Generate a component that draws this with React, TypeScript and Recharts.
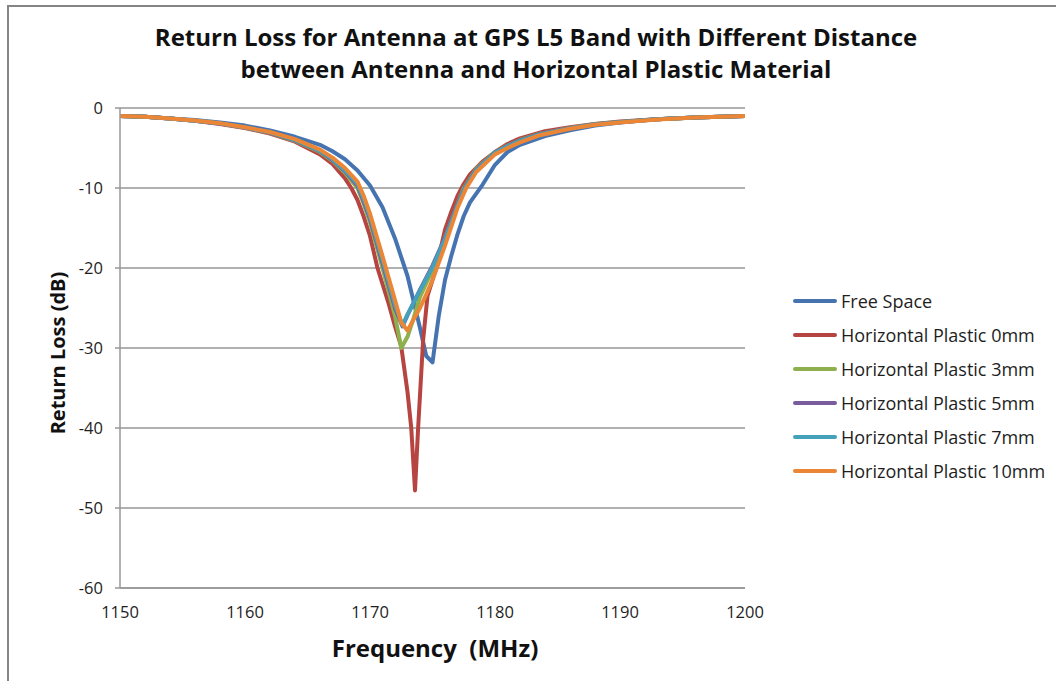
import { LineChart, Line, XAxis, YAxis, CartesianGrid } from "recharts";

const FONT = '"Open Sans", sans-serif';
const GRID = "#979797";

const freqTicks = [1150, 1160, 1170, 1180, 1190, 1200];
const dbTicks = [0, -10, -20, -30, -40, -50, -60];

// Free Space
const freeSpaceFreq = [1150, 1152, 1154, 1156, 1158, 1160, 1162, 1164, 1166, 1167, 1168, 1169, 1170, 1171, 1172, 1173, 1174, 1174.5, 1175, 1175.5, 1176, 1176.5, 1177, 1177.5, 1178, 1179, 1180, 1181, 1182, 1184, 1186, 1188, 1190, 1192, 1194, 1196, 1198, 1200];
const freeSpaceDb = [-1.0, -1.1, -1.3, -1.5, -1.8, -2.2, -2.8, -3.6, -4.6, -5.4, -6.4, -7.8, -9.7, -12.4, -16.3, -21.0, -27.5, -31.0, -31.8, -26.0, -21.5, -18.5, -15.8, -13.5, -11.8, -9.6, -7.1, -5.5, -4.6, -3.5, -2.8, -2.2, -1.8, -1.5, -1.3, -1.2, -1.1, -1.0];

// Horizontal Plastic 0mm
const plastic0Freq = [1150, 1152, 1154, 1156, 1158, 1160, 1162, 1164, 1166, 1167, 1168, 1168.5, 1169, 1169.5, 1170, 1170.6, 1171, 1171.5, 1172, 1172.5, 1173, 1173.3, 1173.6, 1173.85, 1174.25, 1174.6, 1175.3, 1176, 1176.5, 1177, 1177.5, 1178, 1179, 1180, 1181, 1182, 1184, 1186, 1188, 1190, 1193, 1196, 1200];
const plastic0Db = [-1.0, -1.1, -1.3, -1.6, -2.0, -2.5, -3.2, -4.2, -5.8, -7.0, -8.8, -10.0, -11.5, -13.6, -16.0, -20.0, -22.0, -24.5, -27.3, -29.8, -35.5, -40.0, -47.8, -40.0, -29.0, -23.5, -20.0, -15.2, -13.0, -11.0, -9.5, -8.3, -6.7, -5.5, -4.5, -3.8, -2.9, -2.4, -2.0, -1.7, -1.4, -1.2, -1.0];

// Horizontal Plastic 3mm
const plastic3Freq = [1150, 1152, 1154, 1156, 1158, 1160, 1162, 1164, 1166, 1167, 1168, 1169, 1169.5, 1170, 1171, 1172, 1172.5, 1173, 1173.5, 1174, 1175, 1176, 1177, 1177.5, 1178.5, 1180, 1181, 1182, 1183.6, 1186, 1188, 1190, 1193, 1196, 1200];
const plastic3Db = [-1.0, -1.1, -1.3, -1.6, -1.95, -2.45, -3.1, -4.1, -5.5, -6.6, -8.1, -10.0, -12.0, -14.3, -20.0, -26.0, -30.0, -28.6, -26.2, -23.6, -20.2, -16.2, -12.0, -10.0, -7.6, -5.5, -4.7, -4.0, -3.2, -2.5, -2.0, -1.75, -1.4, -1.2, -1.0];

// Horizontal Plastic 5mm
const plastic5Freq = [1150, 1152, 1154, 1156, 1158, 1160, 1162, 1164, 1166, 1167, 1168, 1169, 1169.5, 1170, 1171, 1172, 1172.6, 1173, 1174, 1175, 1176, 1177, 1177.6, 1178.5, 1180, 1181, 1182, 1183.6, 1186, 1188, 1190, 1193, 1196, 1200];
const plastic5Db = [-1.0, -1.1, -1.3, -1.58, -1.93, -2.43, -3.07, -4.05, -5.4, -6.5, -7.9, -9.7, -11.7, -13.9, -19.4, -25.0, -27.3, -25.9, -22.7, -19.7, -16.2, -12.0, -9.9, -7.7, -5.55, -4.75, -4.05, -3.25, -2.52, -2.03, -1.77, -1.41, -1.2, -1.0];

// Horizontal Plastic 7mm
const plastic7Freq = [1150, 1152, 1154, 1156, 1158, 1160, 1162, 1164, 1166, 1167, 1168, 1169, 1169.5, 1170, 1171, 1172, 1172.6, 1173, 1174, 1175, 1176, 1177, 1177.6, 1178.5, 1180, 1181, 1182, 1183.6, 1186, 1188, 1190, 1193, 1196, 1200];
const plastic7Db = [-1.0, -1.1, -1.3, -1.58, -1.92, -2.42, -3.05, -4.0, -5.35, -6.4, -7.8, -9.5, -11.4, -13.6, -19.0, -24.6, -27.2, -25.8, -22.8, -19.9, -16.4, -12.2, -10.0, -7.8, -5.6, -4.8, -4.1, -3.3, -2.55, -2.05, -1.78, -1.42, -1.2, -1.0];

// Horizontal Plastic 10mm
const plastic10Freq = [1150, 1152, 1154, 1156, 1158, 1160, 1162, 1164, 1166, 1167, 1168, 1169, 1169.5, 1170, 1171, 1172, 1172.5, 1173, 1174, 1174.5, 1175, 1176, 1177, 1177.7, 1178.5, 1180, 1181, 1182, 1183.6, 1186, 1188, 1190, 1193, 1196, 1200];
const plastic10Db = [-1.0, -1.1, -1.3, -1.55, -1.9, -2.4, -3.0, -3.9, -5.2, -6.2, -7.5, -9.2, -11.0, -13.2, -18.5, -24.0, -26.8, -27.8, -25.0, -23.3, -21.5, -17.2, -12.5, -10.0, -8.0, -5.8, -5.0, -4.3, -3.4, -2.6, -2.1, -1.8, -1.45, -1.2, -1.0];

const seriesList = [
  { name: "Free Space", color: "#4674B0", freq: freeSpaceFreq, db: freeSpaceDb },
  { name: "Horizontal Plastic 0mm", color: "#B64441", freq: plastic0Freq, db: plastic0Db },
  { name: "Horizontal Plastic 3mm", color: "#8DB04C", freq: plastic3Freq, db: plastic3Db },
  { name: "Horizontal Plastic 5mm", color: "#7A5B9D", freq: plastic5Freq, db: plastic5Db },
  { name: "Horizontal Plastic 7mm", color: "#43A1BC", freq: plastic7Freq, db: plastic7Db },
  { name: "Horizontal Plastic 10mm", color: "#EC8637", freq: plastic10Freq, db: plastic10Db },
];

function toPoints(freq: number[], db: number[]) {
  return freq.map((f, i) => ({ f, v: db[i] }));
}

const tickStyle = { fill: "#1e1e1e", fontSize: 16.5, fontFamily: FONT };

export default function App() {
  return (
    <div
      style={{
        position: "fixed",
        left: 0,
        top: 0,
        width: 1056,
        height: 681,
        overflow: "hidden",
        background: "#fff",
        fontFamily: FONT,
        color: "#111",
      }}
    >
      <div
        style={{
          position: "absolute",
          left: 0,
          top: 21,
          width: 1072,
          textAlign: "center",
          fontSize: 24,
          fontWeight: 700,
          lineHeight: "32px",
        }}
      >
        <div>Return Loss for Antenna at GPS L5 Band with Different Distance</div>
        <div>between Antenna and Horizontal Plastic Material</div>
      </div>

      <div style={{ position: "absolute", left: 0, top: 0 }}>
        <LineChart
          width={1056}
          height={681}
          margin={{ top: 108, right: 311, bottom: 63, left: 60 }}
        >
          <CartesianGrid vertical={false} stroke={GRID} strokeWidth={1.5} />
          <XAxis
            type="number"
            dataKey="f"
            domain={[1150, 1200]}
            ticks={freqTicks}
            allowDataOverflow
            tickLine={false}
            axisLine={{ stroke: GRID, strokeWidth: 1.5 }}
            tick={tickStyle}
            tickMargin={12}
            height={30}
          />
          <YAxis
            type="number"
            domain={[-60, 0]}
            ticks={dbTicks}
            width={60}
            tickSize={5}
            tickMargin={12}
            tickLine={{ stroke: GRID, strokeWidth: 1.5 }}
            axisLine={{ stroke: GRID, strokeWidth: 1.5 }}
            tick={tickStyle}
          />
          {seriesList.map((s) => (
            <Line
              key={s.name}
              data={toPoints(s.freq, s.db)}
              dataKey="v"
              name={s.name}
              type="linear"
              stroke={s.color}
              strokeWidth={4}
              strokeLinejoin="round"
              dot={false}
              activeDot={false}
              isAnimationActive={false}
            />
          ))}
        </LineChart>
      </div>

      <div
        style={{
          position: "absolute",
          left: 57,
          top: 353,
          transform: "translate(-50%, -50%) rotate(-90deg)",
          whiteSpace: "nowrap",
          fontSize: 20,
          fontWeight: 700,
        }}
      >
        Return Loss (dB)
      </div>

      <div
        style={{
          position: "absolute",
          left: 435,
          top: 647,
          transform: "translate(-50%, -50%)",
          whiteSpace: "pre",
          fontSize: 24,
          fontWeight: 700,
        }}
      >
        {"Frequency  (MHz)"}
      </div>

      {seriesList.map((s, i) => (
        <div
          key={s.name}
          style={{
            position: "absolute",
            left: 793,
            top: 301 + i * 34 - 13,
            height: 26,
            display: "flex",
            alignItems: "center",
            whiteSpace: "nowrap",
            fontSize: 18,
            color: "#1e1e1e",
          }}
        >
          <svg width={44} height={8} style={{ marginRight: 4 }}>
            <line x1={2} y1={4} x2={42} y2={4} stroke={s.color} strokeWidth={4} strokeLinecap="round" />
          </svg>
          {s.name}
        </div>
      ))}

      {/* chart frame: only its top and left edges fall inside the picture */}
      <svg
        width={1056}
        height={681}
        style={{ position: "absolute", left: 0, top: 0, pointerEvents: "none" }}
      >
        <path d="M8 681 V6 H1056" fill="none" stroke="#858585" strokeWidth={2} />
      </svg>
    </div>
  );
}
